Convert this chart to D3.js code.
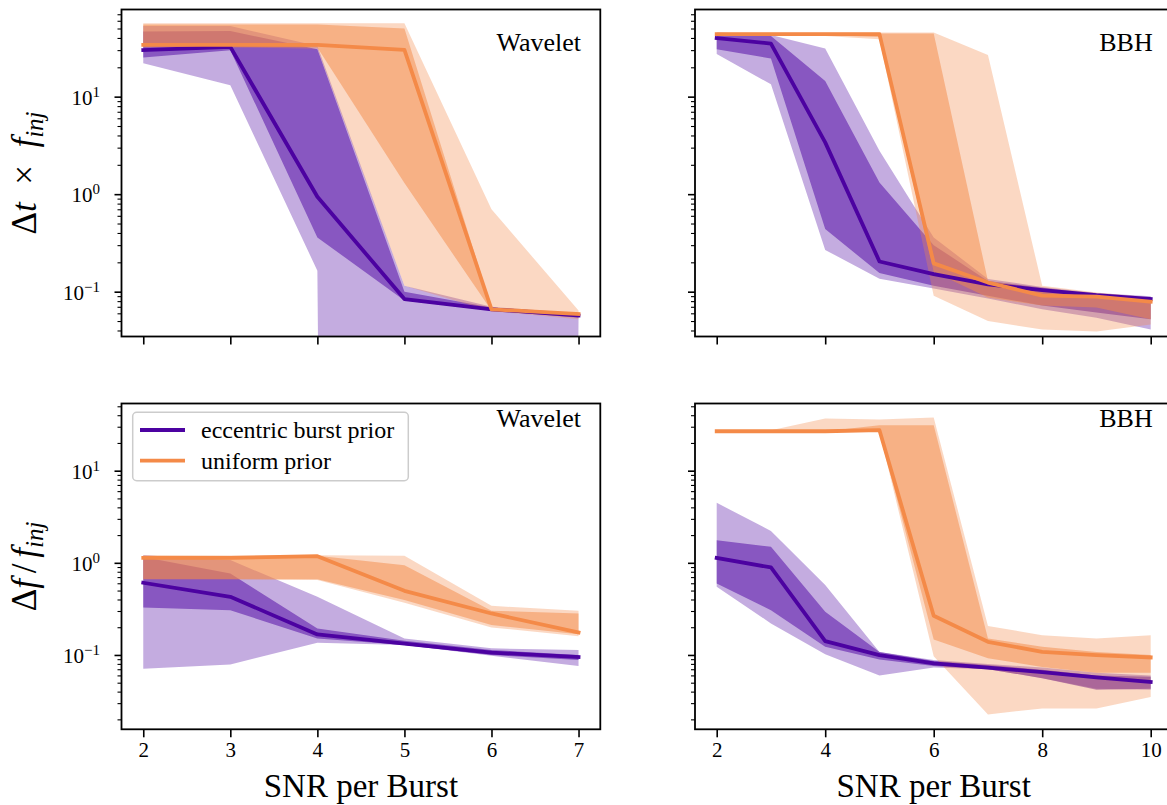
<!DOCTYPE html>
<html><head><meta charset="utf-8">
<script src="https://cdn.jsdelivr.net/npm/d3@7"></script>
<style>body{margin:0;background:#fff}svg{display:block}</style>
</head><body>
<script>
// ---------------- data ----------------
const snrWavelet = [2, 3, 4, 5, 6, 7];
const snrBBH = [2, 3, 4, 5, 6, 7, 8, 9, 10];
const seriesNames = ["eccentric burst prior", "uniform prior"];
const panelLabels = ["Wavelet", "BBH", "Wavelet", "BBH"];
const xTicksWavelet = [2, 3, 4, 5, 6, 7];
const xTicksBBH = [2, 4, 6, 8, 10];
const yTickExps = [-1, 0, 1];

// top-left: Δt×f_inj, Wavelet
const wavDtEccMed = [30, 32.4, 0.94, 0.084, 0.066, 0.057];
const wavDtEccLoIn = [25.2, 30, 0.36, 0.081, 0.064, 0.054];
const wavDtEccHiIn = [46.6, 47, 30.7, 0.1, 0.069, 0.059];
const wavDtEccLoOut = [22, 13.1, 0.164, 0, 0, 0.052];
const wavDtEccHiOut = [53, 53, 33, 0.115, 0.07, 0.06];
const wavDtUniMed = [34, 34, 34, 30.2, 0.066, 0.059];
const wavDtUniLoIn = [33, 33, 32, 1.3, 0.064, 0.056];
const wavDtUniHiIn = [55, 55, 55, 50, 0.069, 0.06];
const wavDtUniLoOut = [32, 32, 31, 0.115, 0.063, 0.052];
const wavDtUniHiOut = [56.5, 56.5, 56.5, 56.5, 0.70, 0.064];

// top-right: Δt×f_inj, BBH
const bbhDtEccMed = [39.8, 35, 3.4, 0.204, 0.151, 0.119, 0.104, 0.092, 0.084];
const bbhDtEccLoIn = [30.7, 24.6, 0.44, 0.155, 0.115, 0.091, 0.072, 0.061, 0.052];
const bbhDtEccHiIn = [43.8, 42, 14.5, 1.32, 0.3, 0.129, 0.11, 0.094, 0.087];
const bbhDtEccLoOut = [27.3, 13.4, 0.268, 0.136, 0.108, 0.085, 0.066, 0.054, 0.041];
const bbhDtEccHiOut = [45.5, 43, 31.2, 2.78, 0.36, 0.135, 0.112, 0.097, 0.09];
const bbhDtUniMed = [43.8, 43.8, 43.8, 43.8, 0.195, 0.124, 0.091, 0.089, 0.079];
const bbhDtUniLoIn = [42.7, 42.7, 42.7, 41, 0.16, 0.087, 0.072, 0.069, 0.052];
const bbhDtUniHiIn = [44.5, 44.5, 44.5, 44.5, 44.5, 0.129, 0.106, 0.094, 0.084];
const bbhDtUniLoOut = [42, 42, 42, 38.8, 0.091, 0.05, 0.041, 0.039, 0.046];
const bbhDtUniHiOut = [45.5, 45.5, 45.5, 45.5, 45.5, 26.7, 0.115, 0.098, 0.087];

// bottom-left: Δf/f_inj, Wavelet
const wavDfEccMed = [0.607, 0.428, 0.167, 0.133, 0.106, 0.095];
const wavDfEccLoIn = [0.327, 0.306, 0.151, 0.128, 0.1, 0.088];
const wavDfEccHiIn = [1.16, 0.766, 0.194, 0.143, 0.113, 0.1];
const wavDfEccLoOut = [0.071, 0.079, 0.136, 0.128, 0.098, 0.076];
const wavDfEccHiOut = [1.21, 1.07, 0.428, 0.151, 0.118, 0.113];
const wavDfUniMed = [1.13, 1.13, 1.18, 0.497, 0.282, 0.175];
const wavDfUniLoIn = [0.665, 0.665, 0.665, 0.394, 0.211, 0.168];
const wavDfUniHiIn = [1.19, 1.19, 1.19, 0.944, 0.302, 0.282];
const wavDfUniLoOut = [0.665, 0.665, 0.649, 0.368, 0.199, 0.16];
const wavDfUniHiOut = [1.21, 1.19, 1.21, 1.19, 0.341, 0.302];

// bottom-right: Δf/f_inj, BBH
const bbhDfEccMed = [1.13, 0.89, 0.141, 0.0996, 0.081, 0.073, 0.065, 0.057, 0.051];
const bbhDfEccLoIn = [0.597, 0.306, 0.123, 0.089, 0.076, 0.07, 0.056, 0.042, 0.043];
const bbhDfEccHiIn = [1.76, 1.49, 0.294, 0.108, 0.086, 0.078, 0.069, 0.06, 0.058];
const bbhDfEccLoOut = [0.55, 0.22, 0.102, 0.06, 0.073, 0.07, 0.056, 0.043, 0.042];
const bbhDfEccHiOut = [4.48, 2.22, 0.573, 0.108, 0.088, 0.08, 0.073, 0.064, 0.06];
const bbhDfUniMed = [26.8, 26.8, 26.8, 27.5, 0.266, 0.139, 0.108, 0.0996, 0.094];
const bbhDfUniLoIn = [26.3, 26.3, 26.3, 26.3, 0.147, 0.092, 0.074, 0.064, 0.064];
const bbhDfUniHiIn = [26.8, 26.8, 26.8, 31.2, 31.2, 0.151, 0.123, 0.108, 0.0996];
const bbhDfUniLoOut = [26.3, 26.3, 26.3, 26.3, 0.097, 0.0226, 0.0263, 0.0263, 0.035];
const bbhDfUniHiOut = [27.5, 27.5, 36.8, 35.9, 37.7, 0.206, 0.164, 0.151, 0.164];

// ---------------- styling ----------------
const colEcc = "#4c02a1";
const colUni = "#f48a48";
const FONT = "'Liberation Serif', 'Times New Roman', serif";
const W = 1167, H = 805;

const panels = [
  {x: snrWavelet, xr: [121.5, 600.3], yr: [9.5, 336.5], xd: [1.75, 7.25], yd: [0.0347, 78.3], xt: xTicksWavelet, xlab: false, ylab: true, label: panelLabels[0], lx: 581, ly: 50.7,
   ecc: [wavDtEccMed, wavDtEccLoIn, wavDtEccHiIn, wavDtEccLoOut, wavDtEccHiOut], uni: [wavDtUniMed, wavDtUniLoIn, wavDtUniHiIn, wavDtUniLoOut, wavDtUniHiOut]},
  {x: snrBBH, xr: [695, 1172.4], yr: [9.5, 336.5], xd: [1.6, 10.4], yd: [0.0347, 78.3], xt: xTicksBBH, xlab: false, ylab: false, label: panelLabels[1], lx: 1152.7, ly: 50.7,
   ecc: [bbhDtEccMed, bbhDtEccLoIn, bbhDtEccHiIn, bbhDtEccLoOut, bbhDtEccHiOut], uni: [bbhDtUniMed, bbhDtUniLoIn, bbhDtUniHiIn, bbhDtUniLoOut, bbhDtUniHiOut]},
  {x: snrWavelet, xr: [121.5, 600.3], yr: [403.5, 729.3], xd: [1.75, 7.25], yd: [0.0156, 53.6], xt: xTicksWavelet, xlab: true, ylab: true, label: panelLabels[2], lx: 581, ly: 426.7,
   ecc: [wavDfEccMed, wavDfEccLoIn, wavDfEccHiIn, wavDfEccLoOut, wavDfEccHiOut], uni: [wavDfUniMed, wavDfUniLoIn, wavDfUniHiIn, wavDfUniLoOut, wavDfUniHiOut]},
  {x: snrBBH, xr: [695, 1172.4], yr: [403.5, 729.3], xd: [1.6, 10.4], yd: [0.0156, 53.6], xt: xTicksBBH, xlab: true, ylab: false, label: panelLabels[3], lx: 1152.7, ly: 426.7,
   ecc: [bbhDfEccMed, bbhDfEccLoIn, bbhDfEccHiIn, bbhDfEccLoOut, bbhDfEccHiOut], uni: [bbhDfUniMed, bbhDfUniLoIn, bbhDfUniHiIn, bbhDfUniLoOut, bbhDfUniHiOut]}
];

const svg = d3.select("body").append("svg").attr("width", W).attr("height", H)
  .style("font-family", FONT);
const defs = svg.append("defs");

panels.forEach((p, i) => {
  const x = d3.scaleLinear().domain(p.xd).range(p.xr);
  const y = d3.scaleLog().domain(p.yd).range([p.yr[1], p.yr[0]]);
  const yy = v => y(Math.max(v, 1e-100));
  const g = svg.append("g");
  defs.append("clipPath").attr("id", "clip" + i).append("rect")
    .attr("x", p.xr[0]).attr("y", p.yr[0]).attr("width", p.xr[1] - p.xr[0]).attr("height", p.yr[1] - p.yr[0]);
  const plot = g.append("g").attr("clip-path", `url(#clip${i})`);

  const area = (lo, hi) => d3.area().x((d, k) => x(p.x[k])).y0((d, k) => yy(lo[k])).y1((d, k) => yy(hi[k]))(p.x);
  const line = arr => d3.line().x((d, k) => x(p.x[k])).y((d, k) => yy(arr[k]))(p.x);

  [[p.ecc, colEcc], [p.uni, colUni]].forEach(([s, c]) => {
    plot.append("path").attr("d", area(s[3], s[4])).attr("fill", c).attr("fill-opacity", 0.33);
    plot.append("path").attr("d", area(s[1], s[2])).attr("fill", c).attr("fill-opacity", 0.5);
  });
  [[p.ecc, colEcc], [p.uni, colUni]].forEach(([s, c]) => {
    plot.append("path").attr("d", line(s[0])).attr("fill", "none").attr("stroke", c)
      .attr("stroke-width", 3.8).attr("stroke-linejoin", "round").attr("stroke-linecap", "square");
  });

  // axes
  const xAxis = d3.axisBottom(x).tickValues(p.xt).tickSize(8).tickPadding(5)
    .tickFormat(p.xlab ? d3.format("d") : () => "");
  const gx = g.append("g").attr("transform", `translate(0,${p.yr[1]})`).call(xAxis).attr("font-family", null);
  gx.select(".domain").remove();
  gx.selectAll(".tick line").attr("stroke", "#000").attr("stroke-width", 1.6);
  gx.selectAll(".tick text").attr("font-size", 21).style("font-family", FONT).attr("dy", "0.71em");

  const [lo, hi] = p.yd;
  const minor = [];
  for (let e = Math.floor(Math.log10(lo)); e <= Math.ceil(Math.log10(hi)); e++)
    for (let m = 2; m <= 9; m++) { const v = m * Math.pow(10, e); if (v >= lo && v <= hi) minor.push(v); }
  const gyMinor = g.append("g").attr("transform", `translate(${p.xr[0]},0)`)
    .call(d3.axisLeft(y).tickValues(minor).tickSize(4).tickFormat(() => ""));
  gyMinor.select(".domain").remove();
  gyMinor.selectAll(".tick line").attr("stroke-width", 1.1);
  const gy = g.append("g").attr("transform", `translate(${p.xr[0]},0)`)
    .call(d3.axisLeft(y).tickValues(yTickExps.map(e => Math.pow(10, e))).tickSize(7).tickFormat(() => ""));
  gy.select(".domain").remove();
  gy.selectAll(".tick line").attr("stroke-width", 1.6);
  if (p.ylab) {
    yTickExps.forEach(e => {
      const t = g.append("text").attr("x", 100).attr("y", y(Math.pow(10, e)) + 8.3)
        .attr("text-anchor", "end").attr("font-size", 21).style("font-family", FONT);
      t.append("tspan").text("10");
      t.append("tspan").attr("dy", -8).attr("font-size", 15).text(e < 0 ? "\u2212" + (-e) : String(e));
    });
  }

  // frame
  g.append("rect").attr("x", p.xr[0]).attr("y", p.yr[0]).attr("width", p.xr[1] - p.xr[0]).attr("height", p.yr[1] - p.yr[0])
    .attr("fill", "none").attr("stroke", "#000").attr("stroke-width", 1.8);

  g.append("text").attr("x", p.lx).attr("y", p.ly).attr("text-anchor", "end").attr("font-size", 26)
    .style("font-family", FONT).text(p.label);

  if (p.xlab) {
    g.append("text").attr("x", (p.xr[0] + p.xr[1]) / 2).attr("y", 797).attr("text-anchor", "middle")
      .attr("font-size", 33).style("font-family", FONT).text("SNR per Burst");
  }
});

// y labels
function yLabel(cy, parts) {
  const t = svg.append("text").attr("transform", `translate(36,${cy}) rotate(-90)`).attr("text-anchor", "middle")
    .attr("font-size", 35).style("font-family", FONT);
  parts.forEach(([s, it, sub]) => {
    const ts = t.append("tspan").text(s);
    if (it) ts.attr("font-style", "italic");
    if (sub === 1) ts.attr("dy", 7).attr("font-size", 25);
  });
}
yLabel((9.5 + 336.5) / 2, [["\u0394", 0], ["t", 1], ["\u2002\u00d7\u2002", 0], ["f", 1], ["inj", 1, 1]]);
yLabel((403.5 + 729.3) / 2, [["\u0394", 0], ["f", 1], ["\u2006/\u2006", 0], ["f", 1], ["inj", 1, 1]]);

// legend
const lg = svg.append("g");
lg.append("rect").attr("x", 132.7).attr("y", 412.3).attr("width", 275.6).attr("height", 68.4).attr("rx", 4)
  .attr("fill", "#fff").attr("fill-opacity", 0.8).attr("stroke", "#cccccc").attr("stroke-width", 1.5);
[[seriesNames[0], colEcc, 430, 438.3], [seriesNames[1], colUni, 460.7, 469]].forEach(([n, c, ly, ty]) => {
  lg.append("line").attr("x1", 140).attr("x2", 185).attr("y1", ly).attr("y2", ly).attr("stroke", c).attr("stroke-width", 3.8);
  lg.append("text").attr("x", 201).attr("y", ty).attr("font-size", 24).style("font-family", FONT).text(n);
});
</script>
</body></html>
